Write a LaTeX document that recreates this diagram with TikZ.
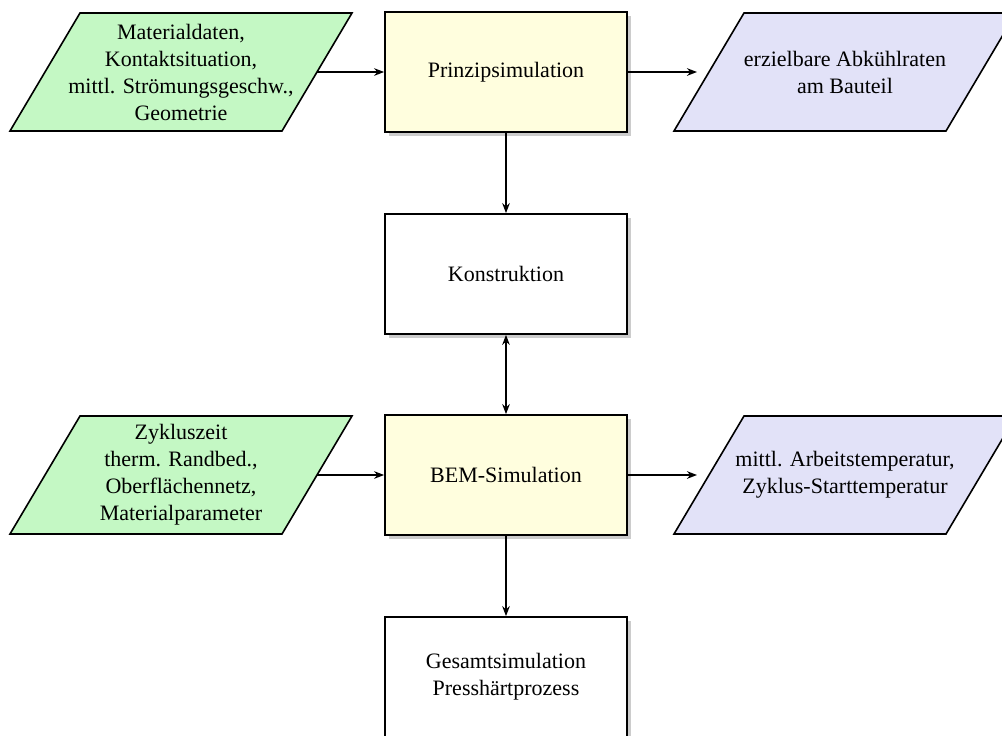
\documentclass[tikz,border=0pt]{standalone}
\usepackage{fontspec}
\setmainfont{Liberation Serif}
\usetikzlibrary{shadows,arrows.meta}
\definecolor{procyellow}{RGB}{255,254,222}
\definecolor{ingreen}{RGB}{196,248,196}
\definecolor{outblue}{RGB}{226,226,248}
\newcommand\myparanode[5]{%
  \filldraw[parashape, fill=#4] (#2-171,#3+59) -- (#2+101,#3+59) -- (#2+171,#3-59) -- (#2-101,#3-59) -- cycle;
  \node[ptext] (#1) at (#2,#3) {#5};}
\begin{document}
\begin{tikzpicture}[x=0.5pt,y=-0.5pt,
  font=\fontsize{11}{13.5}\selectfont,
  box/.style={draw, line width=0.9pt, minimum width=121pt, minimum height=60pt, align=center,
    drop shadow={shadow xshift=2.2pt, shadow yshift=-2.2pt, opacity=0.4}},
  proc/.style={box, fill=procyellow},
  plain/.style={box, fill=white},
  parashape/.style={line width=0.8pt, line join=miter},
  ptext/.style={rectangle, minimum width=136pt, minimum height=59pt, inner sep=0pt,
    outer sep=0pt, align=center},
  arr/.style={-{Stealth[length=5pt,width=3.8pt]}, line width=0.8pt},
  darr/.style={{Stealth[length=5pt,width=3.8pt]}-{Stealth[length=5pt,width=3.8pt]}, line width=0.8pt},
]
\useasboundingbox (0,0) rectangle (1002,735);
\clip (0,0) rectangle (1002,735);

\node[proc]  (prinz)  at (506,72)  {Prinzipsimulation};
\node[plain] (konst)  at (506,274) {Konstruktion};
\node[proc]  (bem)    at (506,475) {BEM-Simulation};
\node[plain] (gesamt) at (506,677) {Gesamtsimulation\\Presshärtprozess};

\myparanode{in1}{181}{72}{ingreen}{Materialdaten,\\Kontaktsituation,\\mittl. Strömungsgeschw.,\\Geometrie}
\myparanode{out1}{845}{72}{outblue}{erzielbare Abkühlraten\\am Bauteil}
\myparanode{in2}{181}{475}{ingreen}{Zykluszeit\\therm. Randbed.,\\Oberflächennetz,\\Materialparameter}
\myparanode{out2}{845}{475}{outblue}{mittl. Arbeitstemperatur,\\Zyklus-Starttemperatur}

\draw[arr] (in1) -- (prinz);
\draw[arr, shorten >=6pt] (prinz) -- (out1);
\draw[arr] (prinz) -- (konst);
\draw[darr] (konst) -- (bem);
\draw[arr] (in2) -- (bem);
\draw[arr, shorten >=6pt] (bem) -- (out2);
\draw[arr] (bem) -- (gesamt);
\end{tikzpicture}
\end{document}
